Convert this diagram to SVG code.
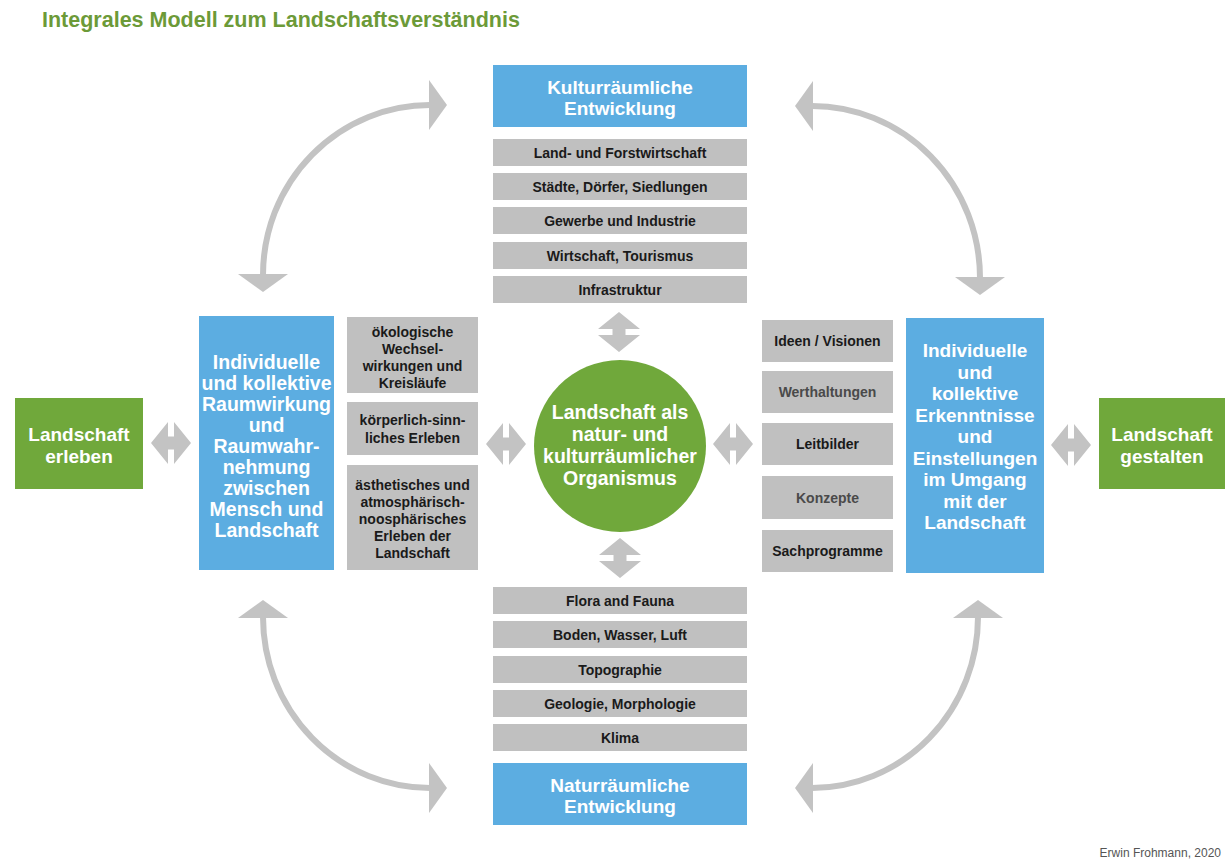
<svg xmlns="http://www.w3.org/2000/svg" width="1225" height="859" viewBox="0 0 1225 859">
  <style>
    text { font-family: "Liberation Sans", Arial, sans-serif; font-weight: bold; text-anchor: middle; }
    .title { font-size: 21.5px; fill: #6c9a38; text-anchor: start; }
    .blue { fill: #5cade1; }
    .green { fill: #70a83b; }
    .gray { fill: #c0c0c0; }
    .hdr { font-size: 19px; fill: #ffffff; }
    .org { font-size: 19.5px; fill: #ffffff; }
    .big { font-size: 19.5px; fill: #ffffff; }
    .item { font-size: 14px; fill: #1a1a1a; }
    .soft { fill: #4a4a4a; }
    .arc { fill: none; stroke: #c3c3c3; stroke-width: 6; marker-start: url(#head); marker-end: url(#head); }
    .link { fill: #c3c3c3; }
    .credit { font-size: 12px; font-weight: normal; fill: #555555; text-anchor: end; }
  </style>
  <defs>
    <marker id="head" viewBox="0 0 18 50" refX="1" refY="25" markerWidth="18" markerHeight="50" markerUnits="userSpaceOnUse" orient="auto-start-reverse">
      <path d="M0,0 L18,25 L0,50 Z" fill="#c3c3c3"/>
    </marker>
    <!-- short double-headed block arrow, horizontal orientation -->
    <path id="dbl" d="M-20,0 L-3,-21 L-3,-6.5 L3,-6.5 L3,-21 L20,0 L3,21 L3,6.5 L-3,6.5 L-3,21 Z"/>
  </defs>

  <text class="title" x="42" y="27">Integrales Modell zum Landschaftsverständnis</text>

  <!-- connectors -->
  <g id="connectors">
    <path class="arc" d="M263,275 A167,170 0 0 1 430,105"/>
    <path class="arc" d="M812,106 A168,172 0 0 1 980,278"/>
    <path class="arc" d="M978,617 A166,171 0 0 1 812,788"/>
    <path class="arc" d="M430,788 A167,171 0 0 1 263,617"/>
    <use href="#dbl" class="link" transform="translate(171,443)"/>
    <use href="#dbl" class="link" transform="translate(506,444)"/>
    <use href="#dbl" class="link" transform="translate(733,444)"/>
    <use href="#dbl" class="link" transform="translate(1071,445)"/>
    <use href="#dbl" class="link" transform="translate(619,332) rotate(90)"/>
    <use href="#dbl" class="link" transform="translate(620,558) rotate(90)"/>
  </g>

  <!-- cultural development column (top) -->
  <g id="kultur">
    <rect class="blue" x="493" y="65" width="254" height="62"/>
    <text class="hdr" x="620" y="94">Kulturräumliche</text>
    <text class="hdr" x="620" y="115">Entwicklung</text>
  </g>
  <g id="kultur-items">
    <rect class="gray" x="493" y="139" width="254" height="27"/>
    <text class="item" x="620" y="157.5">Land- und Forstwirtschaft</text>
    <rect class="gray" x="493" y="173" width="254" height="27"/>
    <text class="item" x="620" y="191.5">Städte, Dörfer, Siedlungen</text>
    <rect class="gray" x="493" y="207" width="254" height="27"/>
    <text class="item" x="620" y="225.5">Gewerbe und Industrie</text>
    <rect class="gray" x="493" y="242" width="254" height="27"/>
    <text class="item" x="620" y="260.5">Wirtschaft, Tourismus</text>
    <rect class="gray" x="493" y="276" width="254" height="27"/>
    <text class="item" x="620" y="294.5">Infrastruktur</text>
  </g>

  <!-- natural development column (bottom) -->
  <g id="natur-items">
    <rect class="gray" x="493" y="587" width="254" height="27"/>
    <text class="item" x="620" y="605.5">Flora and Fauna</text>
    <rect class="gray" x="493" y="621" width="254" height="27"/>
    <text class="item" x="620" y="639.5">Boden, Wasser, Luft</text>
    <rect class="gray" x="493" y="656" width="254" height="27"/>
    <text class="item" x="620" y="674.5">Topographie</text>
    <rect class="gray" x="493" y="690" width="254" height="27"/>
    <text class="item" x="620" y="708.5">Geologie, Morphologie</text>
    <rect class="gray" x="493" y="724" width="254" height="27"/>
    <text class="item" x="620" y="742.5">Klima</text>
  </g>
  <g id="natur">
    <rect class="blue" x="493" y="763" width="254" height="62"/>
    <text class="hdr" x="620" y="792">Naturräumliche</text>
    <text class="hdr" x="620" y="813">Entwicklung</text>
  </g>

  <!-- centre -->
  <g id="organismus">
    <circle class="green" cx="620" cy="446" r="86"/>
    <text class="org" x="620" y="419">Landschaft als</text>
    <text class="org" x="620" y="441">natur- und</text>
    <text class="org" x="620" y="463">kulturräumlicher</text>
    <text class="org" x="620" y="485">Organismus</text>
  </g>

  <!-- left side -->
  <g id="erleben">
    <rect class="green" x="15" y="398" width="128" height="91"/>
    <text class="hdr" x="79" y="441">Landschaft</text>
    <text class="hdr" x="79" y="463">erleben</text>
  </g>
  <g id="raumwirkung">
    <rect class="blue" x="199" y="316" width="135" height="254"/>
    <text class="big" x="266.5" y="369">Individuelle</text>
    <text class="big" x="266.5" y="390">und kollektive</text>
    <text class="big" x="266.5" y="411">Raumwirkung</text>
    <text class="big" x="266.5" y="432">und</text>
    <text class="big" x="266.5" y="453">Raumwahr-</text>
    <text class="big" x="266.5" y="474">nehmung</text>
    <text class="big" x="266.5" y="495">zwischen</text>
    <text class="big" x="266.5" y="516">Mensch und</text>
    <text class="big" x="266.5" y="537">Landschaft</text>
  </g>
  <g id="wahrnehmung-items">
    <rect class="gray" x="347" y="317" width="131" height="76"/>
    <text class="item" x="412.5" y="337">ökologische</text>
    <text class="item" x="412.5" y="354">Wechsel-</text>
    <text class="item" x="412.5" y="371">wirkungen und</text>
    <text class="item" x="412.5" y="388">Kreisläufe</text>
    <rect class="gray" x="347" y="402" width="131" height="53"/>
    <text class="item" x="412.5" y="425">körperlich-sinn-</text>
    <text class="item" x="412.5" y="443">liches Erleben</text>
    <rect class="gray" x="347" y="465" width="131" height="105"/>
    <text class="item" x="412.5" y="490">ästhetisches und</text>
    <text class="item" x="412.5" y="507">atmosphärisch-</text>
    <text class="item" x="412.5" y="524">noosphärisches</text>
    <text class="item" x="412.5" y="541">Erleben der</text>
    <text class="item" x="412.5" y="558">Landschaft</text>
  </g>

  <!-- right side -->
  <g id="leitbild-items">
    <rect class="gray" x="762" y="320" width="131" height="42"/>
    <text class="item" x="827.5" y="346">Ideen / Visionen</text>
    <rect class="gray" x="762" y="371" width="131" height="42"/>
    <text class="item soft" x="827.5" y="397">Werthaltungen</text>
    <rect class="gray" x="762" y="423" width="131" height="42"/>
    <text class="item" x="827.5" y="449">Leitbilder</text>
    <rect class="gray" x="762" y="476" width="131" height="43"/>
    <text class="item soft" x="827.5" y="502.5">Konzepte</text>
    <rect class="gray" x="762" y="530" width="131" height="42"/>
    <text class="item" x="827.5" y="556">Sachprogramme</text>
  </g>
  <g id="erkenntnisse">
    <rect class="blue" x="906" y="318" width="138" height="255"/>
    <text class="hdr" x="975" y="357">Individuelle</text>
    <text class="hdr" x="975" y="378.5">und</text>
    <text class="hdr" x="975" y="400">kollektive</text>
    <text class="hdr" x="975" y="421.5">Erkenntnisse</text>
    <text class="hdr" x="975" y="443">und</text>
    <text class="hdr" x="975" y="464.5">Einstellungen</text>
    <text class="hdr" x="975" y="486">im Umgang</text>
    <text class="hdr" x="975" y="507.5">mit der</text>
    <text class="hdr" x="975" y="529">Landschaft</text>
  </g>
  <g id="gestalten">
    <rect class="green" x="1099" y="398" width="126" height="91"/>
    <text class="hdr" x="1162" y="441">Landschaft</text>
    <text class="hdr" x="1162" y="463">gestalten</text>
  </g>

  <text class="credit" x="1221" y="857">Erwin Frohmann, 2020</text>
</svg>
